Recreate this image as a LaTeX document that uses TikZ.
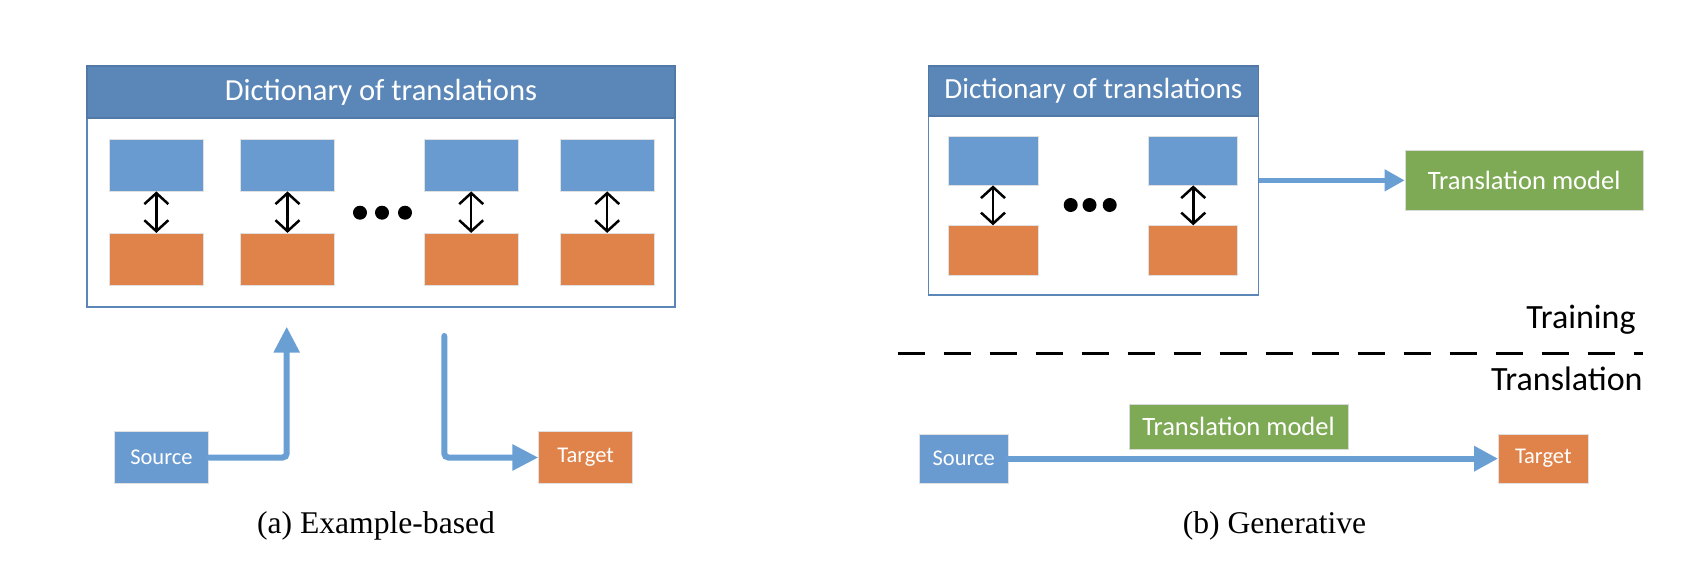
\documentclass[tikz,border=0pt]{standalone}
\usepackage{fontspec}
\newfontfamily\calfont{Carlito}
\newfontfamily\capfont{Liberation Serif}
\usetikzlibrary{arrows.meta,fit}
\definecolor{boxblue}{HTML}{6A9BD0}
\definecolor{hdrblue}{HTML}{5B87B8}
\definecolor{boxorange}{HTML}{E0834A}
\definecolor{boxgreen}{HTML}{7FAA55}
\definecolor{arrowblue}{HTML}{6A9FD4}
\definecolor{frameblue}{HTML}{5B87B8}
\tikzset{
  frame/.style={draw=frameblue, line width=0.75pt, fill=white, inner sep=0pt},
  hdr/.style={draw=frameblue!90!black, line width=0.6pt, fill=hdrblue, inner sep=0pt, text=white},
  srcbox/.style={fill=boxblue, draw=black!12, line width=0.4pt, inner sep=0pt, text=white},
  tgtbox/.style={fill=boxorange, draw=black!12, line width=0.4pt, inner sep=0pt, text=white},
  modelbox/.style={fill=boxgreen, draw=black!15, line width=0.4pt, inner sep=0pt, text=white,
    font=\calfont\fontsize{13.25pt}{16pt}\selectfont},
  smalltext/.style={font=\calfont\fontsize{11.25pt}{13pt}\selectfont},
  dblarrow/.style={draw=black, line width=1.25pt, {Straight Barb[length=5.5pt,width=12pt,line width=1.25pt]}-{Straight Barb[length=5.5pt,width=12pt,line width=1.25pt]}},
  flow/.style={draw=arrowblue, line width=3pt, line cap=round, rounded corners=2pt,
    -{Triangle[length=13pt,width=12.5pt]}},
  flowthin/.style={draw=arrowblue, line width=2.25pt, -{Triangle[length=10pt,width=10.5pt]}},
  dotnode/.style={circle, fill=black, inner sep=0pt, minimum size=7pt},
  phase/.style={anchor=east, inner sep=0pt, font=\calfont\fontsize{17pt}{20pt}\selectfont},
  dashsep/.style={draw=black, line width=1.5pt, dash pattern=on 13.5pt off 9.5pt},
  caption/.style={inner sep=0pt, font=\capfont\fontsize{15.8pt}{19pt}\selectfont}
}
\begin{document}
\begin{tikzpicture}[x=0.5pt,y=-0.5pt]
\useasboundingbox (0,0) rectangle (1708,562);

% ---------- (a) Example-based ----------
\node[frame, fit={(87,66) (675,307)}] (dictA) {};
\node[hdr, minimum width=294pt, minimum height=26pt, font=\calfont\fontsize{15.3pt}{18pt}\selectfont] (hdrA) at (381,92) {Dictionary of translations};

\node[srcbox, fit={(109.7,139.3) (203,191)}] (a1s) {};
\node[tgtbox, fit={(109.7,233.3) (203,285)}] (a1t) {};
\node[srcbox, fit={(240.8,139.3) (334.2,191)}] (a2s) {};
\node[tgtbox, fit={(240.8,233.3) (334.2,285)}] (a2t) {};
\node[srcbox, fit={(424.5,139.3) (517.9,191)}] (a3s) {};
\node[tgtbox, fit={(424.5,233.3) (517.9,285)}] (a3t) {};
\node[srcbox, fit={(560.2,139.3) (654.2,191)}] (a4s) {};
\node[tgtbox, fit={(560.2,233.3) (654.2,285)}] (a4t) {};

\draw[dblarrow] (a1s) -- (a1t);
\draw[dblarrow] (a2s) -- (a2t);
\draw[dblarrow] (a3s) -- (a3t);
\draw[dblarrow] (a4s) -- (a4t);

\node[dotnode] (ad1) at (360,212.7) {};
\node[dotnode] (ad2) at (382,212.7) {};
\node[dotnode] (ad3) at (405,212.7) {};

\node[srcbox, smalltext, minimum width=47pt, minimum height=25.8pt] (srcA) at (161.4,457.5) {Source};
\node[tgtbox, smalltext, minimum width=47pt, minimum height=25.8pt] (tgtA) at (585.7,457.5) {Target};

\coordinate (upA) at (286.7,326.7);
\coordinate (downA) at (444.3,336);
\draw[flow] (srcA.east) -| (upA);
\draw[flow] (downA) |- (tgtA.west);

\node[caption] (capA) at (376,526) {(a) Example-based};

% ---------- (b) Generative ----------
\node[frame, fit={(928.5,66) (1258.3,295)}] (dictB) {};
\node[hdr, minimum width=164.9pt, minimum height=25pt, font=\calfont\fontsize{14.6pt}{17pt}\selectfont] (hdrB) at (1093.4,91) {Dictionary of translations};

\node[srcbox, fit={(948,136) (1038,185)}] (b1s) {};
\node[tgtbox, fit={(948,225.7) (1038,275)}] (b1t) {};
\node[srcbox, fit={(1148.7,136) (1237.8,185)}] (b2s) {};
\node[tgtbox, fit={(1148.7,225.7) (1237.8,275)}] (b2t) {};

\draw[dblarrow] (b1s) -- (b1t);
\draw[dblarrow] (b2s) -- (b2t);

\node[dotnode] (bd1) at (1070.7,205) {};
\node[dotnode] (bd2) at (1089.5,205) {};
\node[dotnode] (bd3) at (1109.7,205) {};

\node[modelbox, minimum width=119.15pt, minimum height=29.65pt] (tmTop) at (1524.15,180.35) {Translation model};
\draw[flowthin] (dictB.east |- tmTop.west) -- (tmTop.west);

\node[phase] (train) at (1636,320) {Training};
\coordinate (sepL) at (897.5,353);
\coordinate (sepR) at (1642.5,353);
\draw[dashsep] (sepL) -- (sepR);
\node[phase] (transl) at (1643,379) {Translation};

\node[srcbox, smalltext, minimum width=44.75pt, minimum height=24.65pt] (srcB) at (963.75,458.65) {Source};
\node[tgtbox, smalltext, minimum width=44.75pt, minimum height=24.65pt] (tgtB) at (1543.25,458.65) {Target};
\node[modelbox, minimum width=109.5pt, minimum height=22.35pt] (tmBot) at (1238.5,426.65) {Translation model};
\draw[flow, -{Triangle[length=12pt,width=12pt]}] (srcB) -- (tgtB);

\node[caption] (capB) at (1274.5,526) {(b) Generative};
\end{tikzpicture}
\end{document}
